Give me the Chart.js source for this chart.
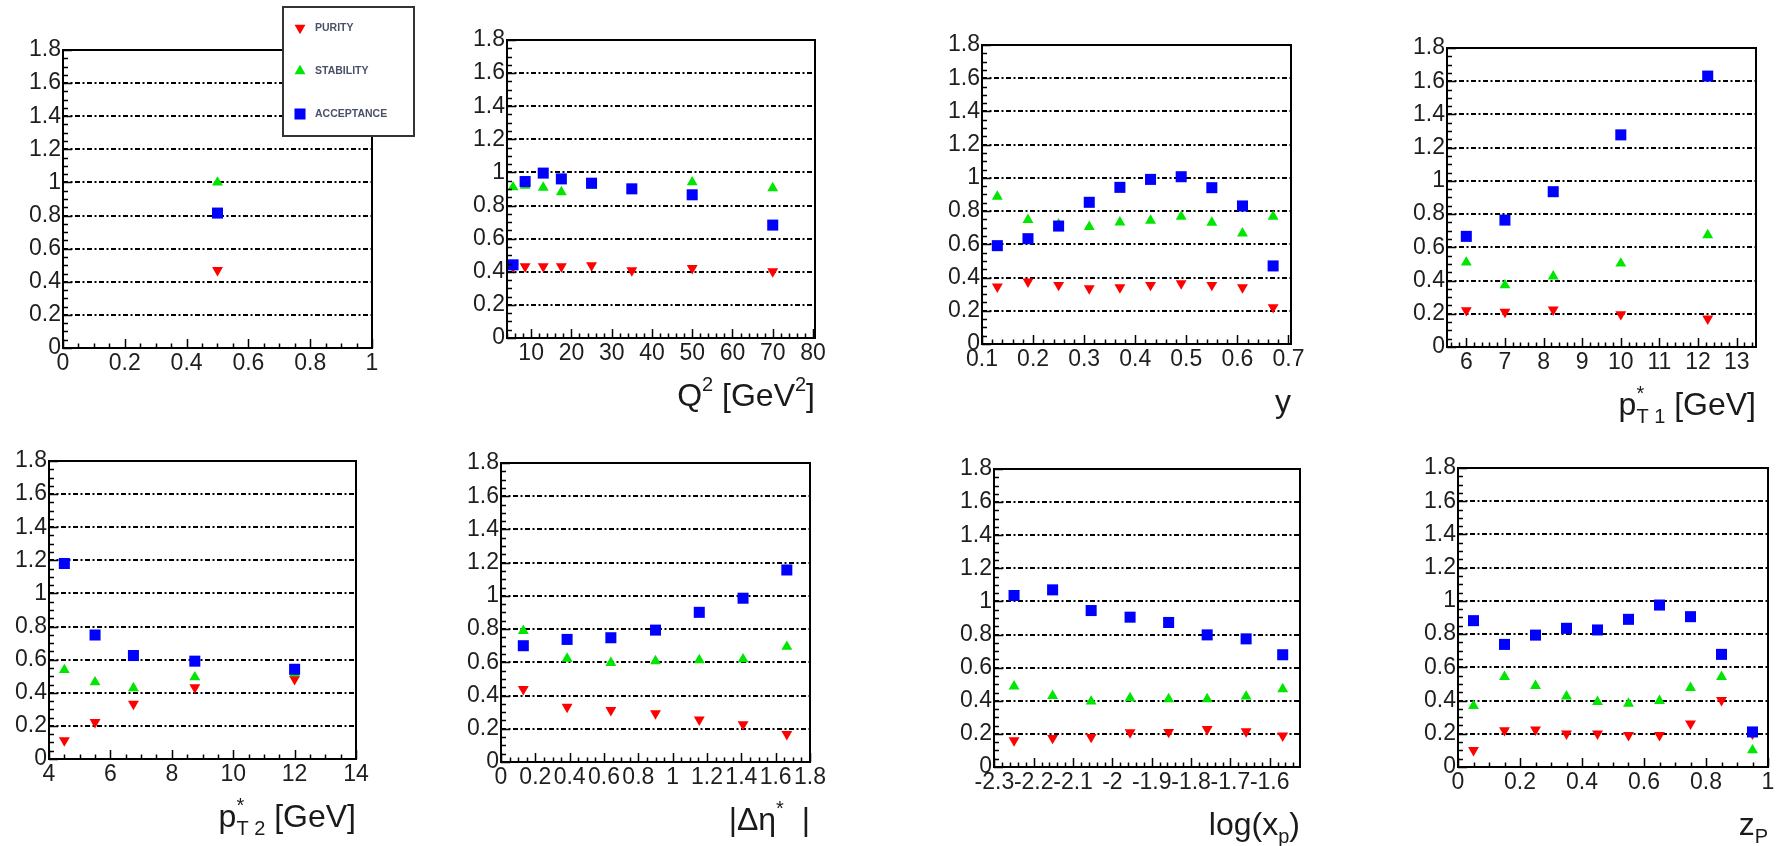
<!DOCTYPE html>
<html>
<head>
<meta charset="utf-8">
<script src="https://cdn.jsdelivr.net/npm/chart.js@4.4.1/dist/chart.umd.min.js"></script>
<style>
  body { margin: 0; background: #fff; width: 1778px; height: 846px; overflow: hidden; position: relative; }
  canvas { position: absolute; }
</style>
</head>
<body>
<script>
// shared y axis
const yTicks = [0, 0.2, 0.4, 0.6, 0.8, 1, 1.2, 1.4, 1.6, 1.8];
const legendLabels = ['PURITY', 'STABILITY', 'ACCEPTANCE'];

// panel 1 (single bin)
const p1X          = [0.5];
const p1Purity     = [0.47];
const p1Stability  = [1.0];
const p1Acceptance = [0.815];
const p1Ticks      = [0, 0.2, 0.4, 0.6, 0.8, 1];

// Q^2
const q2X          = [5.5, 8.5, 13, 17.5, 25, 35, 50, 70];
const q2Purity     = [0.43, 0.432, 0.432, 0.432, 0.438, 0.408, 0.422, 0.402];
const q2Stability  = [0.911, 0.92, 0.909, 0.881, 0.921, 0.895, 0.941, 0.905];
const q2Acceptance = [0.442, 0.945, 0.996, 0.961, 0.935, 0.901, 0.865, 0.682];
const q2Ticks      = [10, 20, 30, 40, 50, 60, 70, 80];

// y
const yX           = [0.13, 0.19, 0.25, 0.31, 0.37, 0.43, 0.49, 0.55, 0.61, 0.67];
const yPurity      = [0.345, 0.375, 0.355, 0.335, 0.341, 0.355, 0.365, 0.355, 0.341, 0.221];
const yStability   = [0.887, 0.747, 0.72, 0.706, 0.733, 0.743, 0.767, 0.731, 0.666, 0.767];
const yAcceptance  = [0.592, 0.634, 0.71, 0.853, 0.943, 0.991, 1.007, 0.941, 0.831, 0.47];
const yXTicks      = [0.1, 0.2, 0.3, 0.4, 0.5, 0.6, 0.7];

// pT1*
const pt1X          = [6, 7, 8.25, 10, 12.25];
const pt1Purity     = [0.221, 0.211, 0.225, 0.197, 0.171];
const pt1Stability  = [0.509, 0.372, 0.426, 0.503, 0.674];
const pt1Acceptance = [0.666, 0.764, 0.935, 1.277, 1.631];
const pt1Ticks      = [6, 7, 8, 9, 10, 11, 12, 13];

// pT2*
const pt2X          = [4.5, 5.5, 6.75, 8.75, 12];
const pt2Purity     = [0.112, 0.223, 0.333, 0.432, 0.482];
const pt2Stability  = [0.538, 0.464, 0.428, 0.494, 0.518];
const pt2Acceptance = [1.181, 0.749, 0.625, 0.591, 0.542];
const pt2Ticks      = [4, 6, 8, 10, 12, 14];

// |delta eta*|
const detaX          = [0.13, 0.385, 0.64, 0.9, 1.155, 1.41, 1.665];
const detaPurity     = [0.438, 0.332, 0.312, 0.292, 0.255, 0.227, 0.167];
const detaStability  = [0.79, 0.623, 0.597, 0.607, 0.613, 0.619, 0.694];
const detaAcceptance = [0.7, 0.738, 0.748, 0.794, 0.901, 0.986, 1.156];
const detaTicks      = [0, 0.2, 0.4, 0.6, 0.8, 1, 1.2, 1.4, 1.6, 1.8];

// log(xp)
const lxpX          = [-2.25, -2.152, -2.054, -1.955, -1.857, -1.759, -1.66, -1.567];
const lxpPurity     = [0.161, 0.175, 0.181, 0.209, 0.211, 0.229, 0.215, 0.189];
const lxpStability  = [0.487, 0.43, 0.396, 0.416, 0.41, 0.41, 0.426, 0.471];
const lxpAcceptance = [1.036, 1.07, 0.945, 0.905, 0.873, 0.798, 0.774, 0.678];
const lxpTicks      = [-2.3, -2.2, -2.1, -2, -1.9, -1.8, -1.7, -1.6];

// zP
const zpX          = [0.05, 0.15, 0.25, 0.35, 0.45, 0.55, 0.65, 0.75, 0.85, 0.95];
const zpPurity     = [0.101, 0.221, 0.225, 0.201, 0.201, 0.191, 0.191, 0.261, 0.402, 0.2];
const zpStability  = [0.368, 0.543, 0.489, 0.426, 0.392, 0.382, 0.398, 0.477, 0.543, 0.101];
const zpAcceptance = [0.881, 0.738, 0.794, 0.835, 0.825, 0.889, 0.975, 0.905, 0.678, 0.211];
const zpTicks      = [0, 0.2, 0.4, 0.6, 0.8, 1];

// layout: plot frame [left, top, right, bottom] in page px
const PANELS = [
  { box: [63, 50, 372, 348],    xr: [0, 1],          ticks: p1Ticks,   sub: 4, x: p1X,   d: [p1Purity, p1Stability, p1Acceptance], title: null, legend: true },
  { box: [507, 40, 815, 338],   xr: [4, 80.5],       ticks: q2Ticks,   sub: 5, x: q2X,   d: [q2Purity, q2Stability, q2Acceptance],
    title: [{t:'Q'},{t:'2',s:'sup'},{t:' [GeV'},{t:'2',s:'sup'},{t:']'}] },
  { box: [982, 45, 1291, 344],  xr: [0.1, 0.705],    ticks: yXTicks,   sub: 5, x: yX,    d: [yPurity, yStability, yAcceptance], title: [{t:'y'}] },
  { box: [1447, 48, 1756, 347], xr: [5.5, 13.5],     ticks: pt1Ticks,  sub: 5, x: pt1X,  d: [pt1Purity, pt1Stability, pt1Acceptance],
    title: [{t:'p'},{t:'*',s:'sup',k:1},{t:'T 1',s:'sub'},{t:' [GeV]'}] },
  { box: [49, 461, 356, 759],   xr: [4, 14],         ticks: pt2Ticks,  sub: 4, x: pt2X,  d: [pt2Purity, pt2Stability, pt2Acceptance],
    title: [{t:'p'},{t:'*',s:'sup',k:1},{t:'T 2',s:'sub'},{t:' [GeV]'}] },
  { box: [501, 463, 810, 762],  xr: [0, 1.8],        ticks: detaTicks, sub: 4, x: detaX, d: [detaPurity, detaStability, detaAcceptance],
    title: [{t:'|\u0394\u03b7'},{t:'*',s:'sup'},{t:'  |'}] },
  { box: [994, 469, 1300, 767], xr: [-2.301, -1.523], ticks: lxpTicks, sub: 5, x: lxpX,  d: [lxpPurity, lxpStability, lxpAcceptance],
    title: [{t:'log(x'},{t:'p',s:'sub'},{t:')'}] },
  { box: [1458, 468, 1768, 767], xr: [0, 1],         ticks: zpTicks,   sub: 4, x: zpX,   d: [zpPurity, zpStability, zpAcceptance],
    title: [{t:'z'},{t:'P',s:'sub'}] }
];

const PAD = { l: 60, t: 50, r: 50, b: 90 };
const FONT = '"Liberation Sans", Arial, Helvetica, sans-serif';
const STYLES = [
  { color: '#ff0000', pointStyle: 'triangle', rotation: 180, radius: 6.3 },
  { color: '#00e600', pointStyle: 'triangle', rotation: 0,   radius: 6.3 },
  { color: '#0000ff', pointStyle: 'rect',     rotation: 0,   radius: 7.8 }
];

function subTicks(major, n, min, max) {
  const step = (major[1] - major[0]) / n, out = [];
  let v = major[0];
  while (v - step >= min - 1e-9) v -= step;
  for (; v <= max + 1e-9; v += step) out.push(v);
  return out;
}

function drawTitle(ctx, parts, right, base) {
  const big = 32, small = 20;
  let w = 0;
  const items = parts.map(p => {
    const size = p.s ? small : big;
    ctx.font = `${size}px ${FONT}`;
    const it = { ...p, size, x: w };
    if (!p.k) w += ctx.measureText(p.t).width;
    return it;
  });
  ctx.fillStyle = '#1a1a1a';
  ctx.textAlign = 'left';
  ctx.textBaseline = 'alphabetic';
  items.forEach(it => {
    ctx.font = `${it.size}px ${FONT}`;
    const dy = it.s === 'sup' ? -15 : it.s === 'sub' ? 8 : 0;
    ctx.fillText(it.t, right - w + it.x, base + dy);
  });
}

const rootStyle = {
  id: 'rootStyle',
  afterDraw(chart, args, o) {
    const { ctx, chartArea: a, scales: { x, y } } = chart;
    ctx.save();
    ctx.strokeStyle = '#000';
    ctx.lineWidth = 1.5;
    ctx.beginPath();
    const yMaj = new Set(yTicks.map(v => v.toFixed(3)));
    subTicks(yTicks, 4, 0, 1.8).forEach(v => {
      const py = Math.round(y.getPixelForValue(v)) + 0.5;
      const len = yMaj.has(v.toFixed(3)) ? 9 : 5;
      ctx.moveTo(a.left, py); ctx.lineTo(a.left + len, py);
    });
    const xMaj = new Set(o.ticks.map(v => v.toFixed(3)));
    subTicks(o.ticks, o.sub, x.min, x.max).forEach(v => {
      const px = Math.round(x.getPixelForValue(v)) + 0.5;
      const len = xMaj.has(v.toFixed(3)) ? 9 : 4.5;
      ctx.moveTo(px, a.bottom); ctx.lineTo(px, a.bottom - len);
    });
    ctx.stroke();
    ctx.lineWidth = 2;
    ctx.strokeRect(a.left, a.top, a.right - a.left, a.bottom - a.top);

    if (o.title) drawTitle(ctx, o.title, a.right, a.bottom + 68);

    if (o.legend) {
      const lx = a.right - 89, ly = a.top - 43;
      ctx.fillStyle = '#fff';
      ctx.fillRect(lx, ly, 131, 129);
      ctx.strokeStyle = '#333';
      ctx.lineWidth = 2;
      ctx.strokeRect(lx, ly, 131, 129);
      legendLabels.forEach((lab, i) => {
        const s = STYLES[i], cy = ly + 21 + 43 * i;
        ctx.fillStyle = s.color;
        Chart.helpers.drawPoint(ctx, { pointStyle: s.pointStyle, rotation: s.rotation, radius: s.radius, borderWidth: 0 }, lx + 17, cy);
        ctx.fillStyle = '#4a5068';
        ctx.font = `bold 10.5px ${FONT}`;
        ctx.textBaseline = 'middle';
        ctx.textAlign = 'left';
        ctx.fillText(lab, lx + 32, cy);
      });
    }
    ctx.restore();
  }
};

const fmt = v => String(+Number(v).toFixed(2));

PANELS.forEach(p => {
  const [L, T, R, B] = p.box;
  const cv = document.createElement('canvas');
  cv.width = (R - L) + PAD.l + PAD.r;
  cv.height = (B - T) + PAD.t + PAD.b;
  cv.style.left = (L - PAD.l) + 'px';
  cv.style.top = (T - PAD.t) + 'px';
  document.body.appendChild(cv);

  // acceptance first so it is drawn on top
  const datasets = [2, 1, 0].map(k => ({
    label: legendLabels[k],
    data: p.x.map((xv, i) => ({ x: xv, y: p.d[k][i] })),
    backgroundColor: STYLES[k].color,
    borderWidth: 0,
    pointStyle: STYLES[k].pointStyle,
    rotation: STYLES[k].rotation,
    pointRadius: STYLES[k].radius
  }));

  new Chart(cv, {
    type: 'scatter',
    data: { datasets },
    plugins: [rootStyle],
    options: {
      responsive: false,
      animation: false,
      devicePixelRatio: 1,
      events: [],
      layout: { padding: { left: 0, top: PAD.t, right: PAD.r, bottom: 0 } },
      plugins: {
        legend: { display: false },
        tooltip: { enabled: false },
        rootStyle: { ticks: p.ticks, sub: p.sub, title: p.title, legend: !!p.legend }
      },
      scales: {
        x: {
          type: 'linear', min: p.xr[0], max: p.xr[1],
          afterBuildTicks: s => { s.ticks = p.ticks.map(v => ({ value: v })); },
          afterFit: s => { s.height = PAD.b; },
          grid: { display: false, drawTicks: false },
          border: { display: false },
          ticks: { autoSkip: false, maxRotation: 0, minRotation: 0, padding: 2,
                   color: '#1e1e1e', font: { family: FONT, size: 23 }, callback: fmt }
        },
        y: {
          min: 0, max: 1.8,
          afterBuildTicks: s => { s.ticks = yTicks.map(v => ({ value: v })); },
          afterFit: s => { s.width = PAD.l; },
          grid: {
            drawTicks: false, lineWidth: 2,
            color: c => (c.tick && (c.tick.value <= 0 || c.tick.value >= 1.8)) ? 'rgba(0,0,0,0)' : '#000'
          },
          border: { display: false, dash: [5, 2.5, 2, 2.5] },
          ticks: { padding: 2, color: '#1e1e1e', font: { family: FONT, size: 23 }, callback: fmt }
        }
      }
    }
  });
});
</script>
</body>
</html>
